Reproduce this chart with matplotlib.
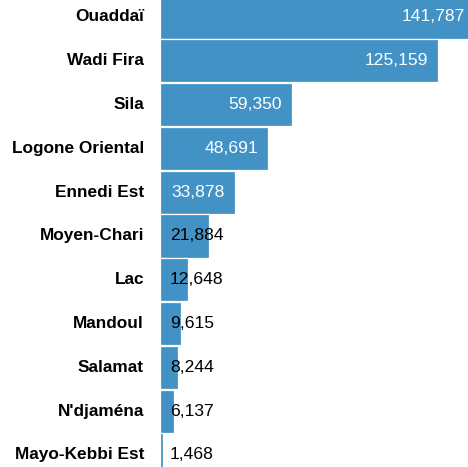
import matplotlib.pyplot as plt

regions = ['Ouaddaï', 'Wadi Fira', 'Sila', 'Logone Oriental', 'Ennedi Est',
           'Moyen-Chari', 'Lac', 'Mandoul', 'Salamat', "N'djaména", 'Mayo-Kebbi Est']
values = [141787, 125159, 59350, 48691, 33878, 21884, 12648, 9615, 8244, 6137, 1468]

plt.rcParams['font.family'] = ['Liberation Sans', 'DejaVu Sans']

W, H = 468, 467
fig = plt.figure(figsize=(W / 100, H / 100), dpi=100)
ax = fig.add_axes([160 / W, 0, 1 - 160 / W, 1])

pos = list(range(len(regions)))
ax.barh(pos, values, height=0.985, color='#4292c6', edgecolor='white', linewidth=0.9)

ax.set_xlim(0, 308 / 0.00222)
ax.set_ylim(10.274, -0.388)
ax.axis('off')

# étiquettes des régions à gauche
for i, name in enumerate(regions):
    ax.annotate(name, xy=(0, i), xytext=(-16, 0), textcoords='offset pixels',
                ha='right', va='center', fontsize=12.4, fontweight='bold',
                color='black', annotation_clip=False)

# valeurs : dans la barre si elle est assez large, sinon après le début
for i, v in enumerate(values):
    txt = f'{v:,}'
    if v > 25000:
        ax.annotate(txt, xy=(v, i), xytext=(-10, 0), textcoords='offset pixels',
                    ha='right', va='center', fontsize=12.6, color='white',
                    annotation_clip=False)
    else:
        ax.annotate(txt, xy=(0, i), xytext=(10, 0), textcoords='offset pixels',
                    ha='left', va='center', fontsize=12.6, color='black')

fig.savefig('out.png', dpi=100)
plt.close(fig)
